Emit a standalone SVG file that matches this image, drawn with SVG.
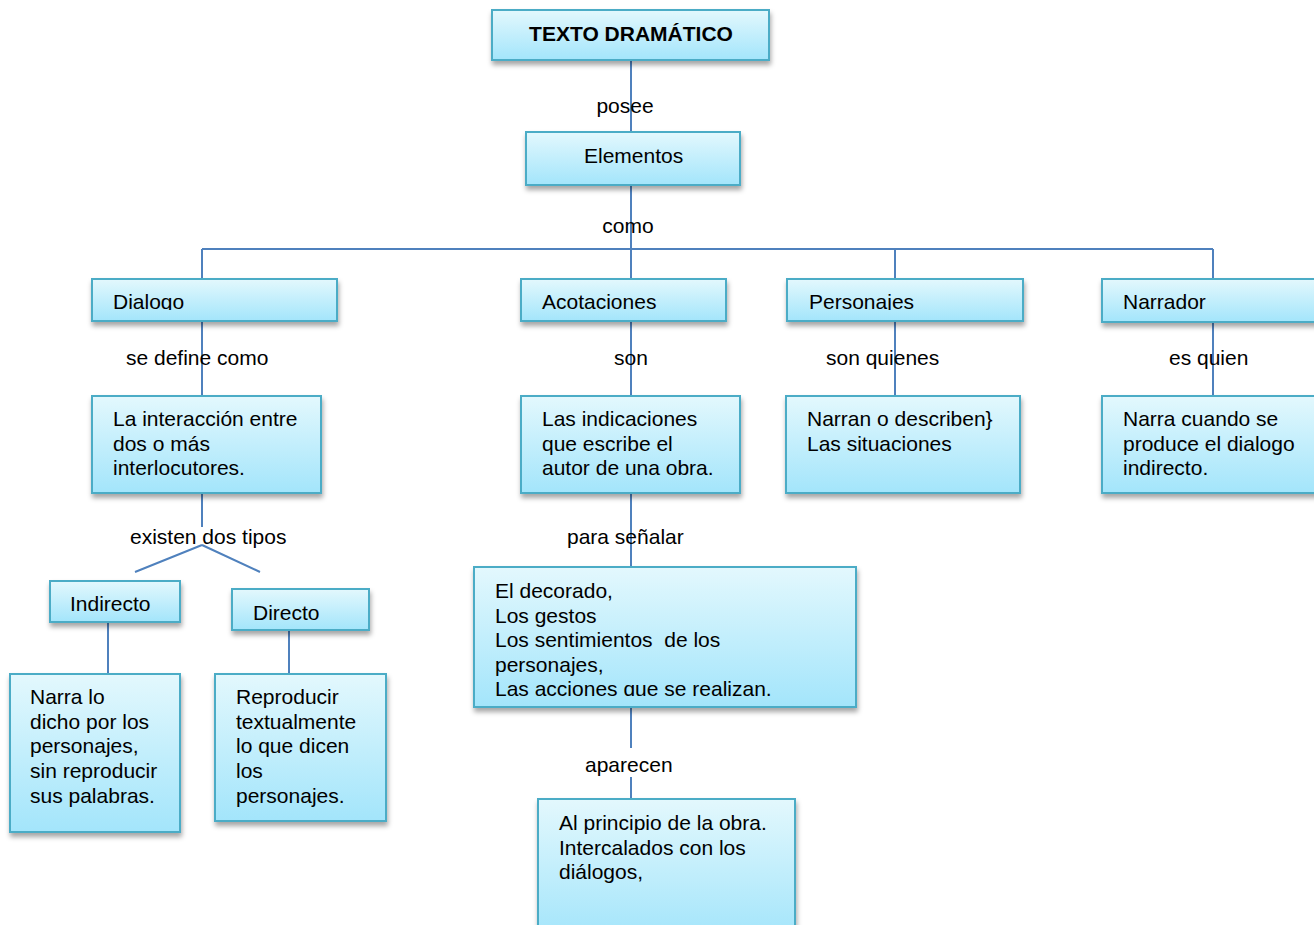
<svg xmlns="http://www.w3.org/2000/svg" width="1314" height="925" viewBox="0 0 1314 925">
<style>
.box{fill:url(#g);stroke:#4bacc6;stroke-width:2;filter:url(#sh)}
.t{font-family:"Liberation Sans",Arial,sans-serif;font-size:21px;fill:#000}
.b{font-weight:bold}
.ln{stroke:#4f81bd;stroke-width:2;fill:none}
</style>
<defs>
<linearGradient id="g" x1="0" y1="0" x2="0" y2="1">
<stop offset="0" stop-color="#e3f8fd"/>
<stop offset="1" stop-color="#a3e5fb"/>
</linearGradient>
<filter id="sh" x="-10%" y="-20%" width="130%" height="150%">
<feDropShadow dx="1" dy="4" stdDeviation="2.5" flood-color="#000" flood-opacity="0.35"/>
</filter>
<clipPath id="c1"><rect x="0" y="270" width="1314" height="40"/></clipPath>
<clipPath id="c2"><rect x="470" y="560" width="400" height="136"/></clipPath>
</defs>
<rect width="1314" height="925" fill="#fff"/>
<g id="connectors">
<path class="ln" d="M631 60V132M631 185V249M202 249H1213M202 249V279M631 249V279M895 249V279M1213 249V279"/>
<path class="ln" d="M202 321V396M631 321V396M895 321V396M1213 322V396"/>
<path class="ln" d="M202 493V527M202 545L135 572M202 545L260 572"/>
<path class="ln" d="M108 622V674M289 630V674"/>
<path class="ln" d="M631 493V567M631 707V748M631 777V799"/>
</g>
<g id="labels" class="t">
<text x="625" y="113" text-anchor="middle">posee</text>
<text x="628" y="233" text-anchor="middle">como</text>
<text x="126" y="365">se define como</text>
<text x="631" y="365" text-anchor="middle">son</text>
<text x="826" y="365">son quienes</text>
<text x="1169" y="365">es quien</text>
<text x="130" y="544">existen dos tipos</text>
<text x="567" y="544">para señalar</text>
<text x="585" y="772">aparecen</text>
</g>
<g id="texto-dramatico"><rect class="box" x="492" y="10" width="277" height="50"/><text class="t b" x="631" y="41" text-anchor="middle">TEXTO DRAMÁTICO</text></g>
<g id="elementos"><rect class="box" x="526" y="132" width="214" height="53"/><text class="t" x="584" y="163">Elementos</text></g>
<g id="dialogo"><rect class="box" x="92" y="279" width="245" height="42"/><text class="t" x="113" y="309" clip-path="url(#c1)">Dialogo</text></g>
<g id="acotaciones"><rect class="box" x="521" y="279" width="205" height="42"/><text class="t" x="542" y="309">Acotaciones</text></g>
<g id="personajes"><rect class="box" x="787" y="279" width="236" height="42"/><text class="t" x="809" y="309" clip-path="url(#c1)">Personajes</text></g>
<g id="narrador"><rect class="box" x="1102" y="279" width="220" height="43"/><text class="t" x="1123" y="309">Narrador</text></g>
<g id="interaccion"><rect class="box" x="92" y="396" width="229" height="97"/><text class="t" x="113" y="426">La interacción entre<tspan x="113" dy="24.5">dos o más</tspan><tspan x="113" dy="24.5">interlocutores.</tspan></text></g>
<g id="indicaciones"><rect class="box" x="521" y="396" width="219" height="97"/><text class="t" x="542" y="426">Las indicaciones<tspan x="542" dy="24.5">que escribe el</tspan><tspan x="542" dy="24.5">autor de una obra.</tspan></text></g>
<g id="narran"><rect class="box" x="786" y="396" width="234" height="97"/><text class="t" x="807" y="426">Narran o describen}<tspan x="807" dy="24.5">Las situaciones</tspan></text></g>
<g id="narra-cuando"><rect class="box" x="1102" y="396" width="220" height="97"/><text class="t" x="1123" y="426">Narra cuando se<tspan x="1123" dy="24.5">produce el dialogo</tspan><tspan x="1123" dy="24.5">indirecto.</tspan></text></g>
<g id="indirecto"><rect class="box" x="50" y="581" width="130" height="41"/><text class="t" x="70" y="611">Indirecto</text></g>
<g id="directo"><rect class="box" x="232" y="589" width="137" height="41"/><text class="t" x="253" y="620">Directo</text></g>
<g id="narra-lo"><rect class="box" x="10" y="674" width="170" height="158"/><text class="t" x="30" y="704">Narra lo<tspan x="30" dy="24.7">dicho por los</tspan><tspan x="30" dy="24.7">personajes,</tspan><tspan x="30" dy="24.7">sin reproducir</tspan><tspan x="30" dy="24.7">sus palabras.</tspan></text></g>
<g id="reproducir"><rect class="box" x="215" y="674" width="171" height="147"/><text class="t" x="236" y="704">Reproducir<tspan x="236" dy="24.7">textualmente</tspan><tspan x="236" dy="24.7">lo que dicen</tspan><tspan x="236" dy="24.7">los</tspan><tspan x="236" dy="24.7">personajes.</tspan></text></g>
<g id="decorado"><rect class="box" x="474" y="567" width="382" height="140"/><text class="t" x="495" y="598" clip-path="url(#c2)">El decorado,<tspan x="495" dy="24.5">Los gestos</tspan><tspan x="495" dy="24.5" xml:space="preserve">Los sentimientos  de los</tspan><tspan x="495" dy="24.5">personajes,</tspan><tspan x="495" dy="24.5">Las acciones que se realizan,</tspan></text></g>
<g id="principio"><rect class="box" x="538" y="799" width="257" height="140"/><text class="t" x="559" y="830">Al principio de la obra.<tspan x="559" dy="24.5">Intercalados con los</tspan><tspan x="559" dy="24.5">diálogos,</tspan></text></g>
</svg>
